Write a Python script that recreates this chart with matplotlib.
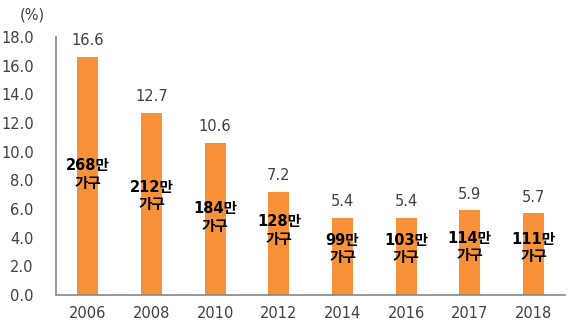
import matplotlib.pyplot as plt
import numpy as np

plt.rcParams['font.family'] = ['DejaVu Sans', 'Noto Sans CJK KR']

years = ['2006', '2008', '2010', '2012', '2014', '2016', '2017', '2018']
rates = [16.6, 12.7, 10.6, 7.2, 5.4, 5.4, 5.9, 5.7]
households = ['268만\n가구', '212만\n가구', '184만\n가구', '128만\n가구',
              '99만\n가구', '103만\n가구', '114만\n가구', '111만\n가구']
# vertical position of the household labels inside the bars
label_y = [8.4, 6.9, 5.4, 4.5, 3.2, 3.2, 3.35, 3.3]

bar_color = '#F7923A'
text_color = '#404040'
axis_color = '#888888'

fig = plt.figure(figsize=(5.78, 3.29), dpi=100)
ax = fig.add_axes([0.097, 0.103, 0.881, 0.785])

x = np.arange(len(years))
ax.bar(x, rates, width=0.33, color=bar_color)

for xi, r in zip(x, rates):
    ax.text(xi, r + 0.6, f'{r:.1f}', ha='center', va='bottom',
            fontsize=10.5, color=text_color)

for xi, lab, ly in zip(x, households, label_y):
    ax.text(xi, ly, lab, ha='center', va='center', fontsize=10.5,
            fontweight='bold', color='black', linespacing=1.2)

ax.set_xlim(-0.5, len(years) - 0.5)
ax.set_ylim(0, 18)
ax.set_yticks(np.arange(0, 18.1, 2))
ax.set_yticklabels([f'{v:.1f}' for v in np.arange(0, 18.1, 2)])
ax.set_xticks(x)
ax.set_xticklabels(years)
ax.tick_params(length=0, labelsize=10.5, colors=text_color, pad=8)
ax.tick_params(axis='y', pad=16)

for side in ['top', 'right']:
    ax.spines[side].set_visible(False)
for side in ['left', 'bottom']:
    ax.spines[side].set_color(axis_color)
    ax.spines[side].set_linewidth(1.2)

fig.text(0.035, 0.955, '(%)', fontsize=10.5, color=text_color, va='center')

fig.savefig('out.png', dpi=100)
